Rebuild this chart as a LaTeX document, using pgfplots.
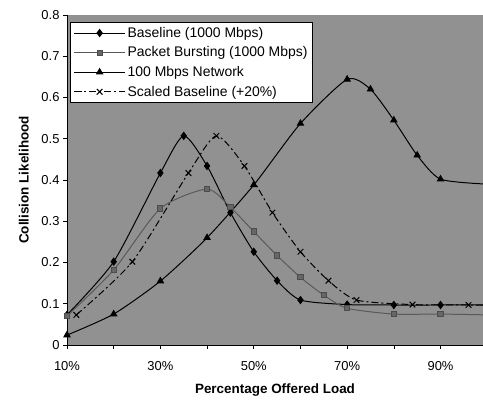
\documentclass[border=0pt]{standalone}
\usepackage{pgfplots}
\pgfplotsset{compat=1.18}
\usepackage{fontspec}
\setmainfont{Liberation Sans}
\begin{document}
\begin{tikzpicture}[x=1bp,y=1bp]
\useasboundingbox (0,0) rectangle (483,400);
\begin{axis}[
  at={(67bp,55bp)}, anchor=south west,
  scale only axis, width=416bp, height=330bp,
  xmin=10, xmax=99.1, ymin=0, ymax=0.8,
  axis x line*=bottom, axis y line*=left,
  axis line style={black, line width=0.8pt, -},
  axis background/.style={fill=black!43},
  xtick={10,30,50,70,90},
  xticklabels={10\%,30\%,50\%,70\%,90\%},
  minor xtick={20,40,60,80},
  ytick={0,0.1,...,0.8},
  yticklabels={0,0.1,0.2,0.3,0.4,0.5,0.6,0.7,0.8},
  tick align=outside,
  major tick length=4bp, minor tick length=4bp,
  tick style={black, line width=0.6pt},
  /pgf/number format/assume math mode=true,
  tick label style={font=\fontsize{13}{15}\selectfont},
  xticklabel style={yshift=-9bp},
  xlabel={\textbf{Percentage Offered Load}},
  ylabel={\textbf{Collision Likelihood}},
  label style={font=\fontsize{13.5}{15}\selectfont},
  xlabel style={yshift=-6bp},
  ylabel style={yshift=6bp},
  clip=true,
  legend style={at={(0.008,0.979)}, anchor=north west, draw=black, line width=0.6pt, fill=white,
    font=\fontsize{14}{16}\selectfont, row sep=4bp, inner sep=3bp},
  legend cell align=left,
  legend image code/.code={\draw[mark repeat=2,mark phase=2] plot coordinates {(0cm,0cm)(0.9cm,0cm)(1.8cm,0cm)};},
]
\addplot[black, line width=1pt, smooth, tension=0.4, mark=diamond*, mark size=3.5pt, mark options={solid, fill=black}]
coordinates {(10,0.073)(20,0.202)(30,0.417)(35,0.507)(40,0.434)(45,0.321)(50,0.226)(55,0.156)(60,0.109)(70,0.098)(80,0.097)(90,0.097)(100,0.097)};
\addlegendentry{Baseline (1000 Mbps)}
\addplot[black!65, line width=1pt, smooth, tension=0.4, mark=square*, mark size=2.6pt, mark options={solid, fill=black!60, draw=black!70}]
coordinates {(10,0.070)(20,0.182)(30,0.331)(40,0.378)(45,0.334)(50,0.275)(55,0.217)(60,0.164)(65,0.121)(70,0.089)(80,0.075)(90,0.075)(100,0.073)};
\addlegendentry{Packet Bursting (1000 Mbps)}
\addplot[black, line width=1pt, smooth, tension=0.4, mark=triangle*, mark size=3.5pt, mark options={solid, fill=black}]
coordinates {(10,0.024)(20,0.075)(30,0.155)(40,0.260)(50,0.388)(60,0.537)(70,0.644)(75,0.620)(80,0.545)(85,0.460)(90,0.402)(100,0.390)};
\addlegendentry{100 Mbps Network}
\addplot[black, line width=1pt, smooth, tension=0.4, dash pattern=on 7pt off 3pt on 2pt off 3pt, mark=x, mark size=4pt, mark options={solid, line width=1pt}]
coordinates {(12,0.073)(24,0.202)(36,0.417)(42,0.507)(48,0.434)(54,0.321)(60,0.226)(66,0.156)(72,0.109)(84,0.098)(96,0.097)(100,0.097)};
\addlegendentry{Scaled Baseline (+20\%)}
\end{axis}
\end{tikzpicture}
\end{document}
